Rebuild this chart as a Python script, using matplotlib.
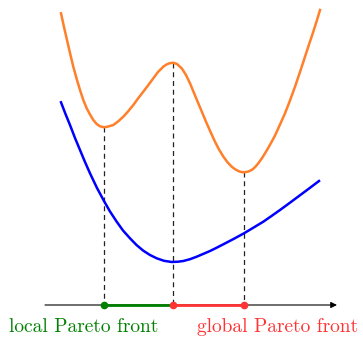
import matplotlib.pyplot as plt

# points (x, y in pixel units, y grows downwards)
orange_x = [61, 64, 67, 70, 73.3, 76.7, 80, 83.3, 86.7, 90, 93.3, 96.7, 100, 104, 108, 113.3, 118,
            123.3, 128, 133.3, 138, 143.3, 148, 153.3, 158, 163.3, 166, 169, 173, 177, 181.7, 186,
            190, 194, 198.3, 202.5, 206.7, 211, 215, 219, 223.3, 227.5, 231.7, 235, 238.3, 241, 244.3,
            248, 251.7, 255, 258.3, 261.7, 265, 268.3, 271.7, 275, 280, 285, 290, 295, 300, 305, 309,
            313.3, 317, 320]
orange_y = [13.3, 27, 40, 53, 66.7, 79, 90, 100, 108.3, 114.5, 120, 124, 126.3, 127.3, 126.6, 125, 121.5,
            116.7, 111.5, 105, 98.5, 91.7, 85.5, 78.3, 72, 66.7, 64.8, 63.4, 62.7, 64, 68.3, 75,
            83.3, 93, 103.3, 113.3, 123.3, 133, 141.7, 149.5, 156.5, 162.3, 166.7, 169.2, 171, 172, 172.3,
            171.6, 170, 167.2, 163.3, 158.6, 153.3, 147.8, 141.7, 135.5, 124.5, 113.3, 100.5, 86.7, 72,
            56.7, 44.5, 31.7, 20, 10]

blue_x = [61, 65.5, 70, 75, 80, 85, 90, 97, 104, 110, 116.7, 123, 130, 136.5, 143.3, 150, 156.7, 164,
          171.7, 178, 183.3, 190, 196.7, 203, 210, 216.5, 223.3, 233.5, 244, 253.5, 263.3, 271.5, 280,
          288.5, 296.7, 308, 319]
blue_y = [102.3, 114, 125, 138, 150, 162, 173.3, 188, 201, 211.5, 221.7, 230.5, 238.3, 245, 250.7, 255,
          258.3, 260.8, 262, 261.7, 261, 259.2, 256.7, 254, 251, 247.8, 244.3, 239, 233.3, 227.6, 221.7,
          216, 210, 203.8, 197.7, 189.3, 181]

# critical points of the orange curve and the axis
crit_x = [104, 173, 244]
crit_y = [127.3, 62.7, 172.3]
axis_y = 305
axis_start, axis_end = 45, 337

local_label = "local Pareto front"
global_label = "global Pareto front"

plt.rcParams['font.family'] = ['cmr10', 'DejaVu Serif']
plt.rcParams['axes.formatter.use_mathtext'] = True

fig = plt.figure(figsize=(3.63, 3.37), dpi=100)
ax = fig.add_axes([0, 0, 1, 1])
ax.set_xlim(0, 363)
ax.set_ylim(337, 0)
ax.axis("off")

for cx, cy in zip(crit_x, crit_y):
    ax.plot([cx, cx], [cy, axis_y], color="#222222", lw=0.9, ls=(0, (4, 3)), zorder=1)

ax.annotate("", xy=(axis_end, axis_y), xytext=(axis_start, axis_y),
            arrowprops=dict(arrowstyle="-|>", color="black", lw=0.8, mutation_scale=9,
                            shrinkA=0, shrinkB=0), zorder=2)

ax.plot(orange_x, orange_y, color="#ff7f2a", lw=1.8, solid_joinstyle="round", zorder=3)
ax.plot(blue_x, blue_y, color="#0000ff", lw=1.8, solid_joinstyle="round", zorder=3)

ax.plot(crit_x[:2], [axis_y, axis_y], color="green", lw=2, zorder=4)
ax.plot(crit_x[1:], [axis_y, axis_y], color="#ff3333", lw=2, zorder=4)
ax.plot(crit_x[0], axis_y, "o", color="green", ms=4.5, zorder=5)
ax.plot(crit_x[1:], [axis_y, axis_y], "o", color="#ff3333", ms=4.5, zorder=5)

ax.text(84, 332, local_label, color="green", fontsize=14, ha="center", va="baseline")
ax.text(278, 332, global_label, color="#ff3333", fontsize=14, ha="center", va="baseline")

fig.savefig("out.png", dpi=100)
